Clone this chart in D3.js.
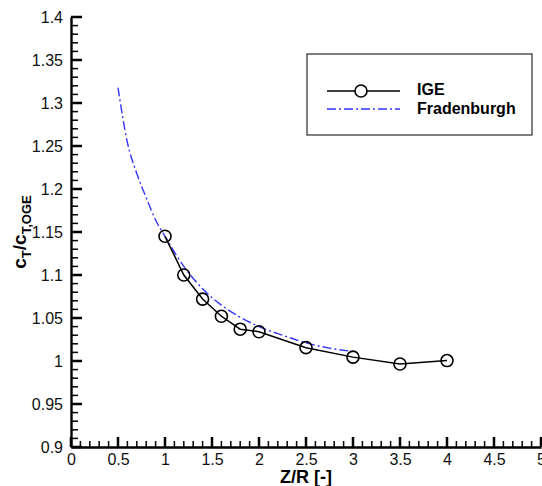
<!DOCTYPE html>
<html>
<head>
<meta charset="utf-8">
<script src="https://cdn.jsdelivr.net/npm/d3@7"></script>
<style>
  body { margin: 0; background: #fff; }
  svg { display: block; font-family: "Liberation Sans", Arial, Helvetica, sans-serif; }
</style>
</head>
<body>
<svg id="chart" width="542" height="486"></svg>
<script>
// IGE measurements
const igeX = [1.0, 1.2, 1.4, 1.6, 1.8, 2.0, 2.5, 3.0, 3.5, 4.0];
const igeY = [1.145, 1.100, 1.072, 1.052, 1.037, 1.034, 1.0155, 1.0045, 0.9965, 1.0005];

// Fradenburgh curve
const fradX = [0.5, 0.6, 0.7, 0.8, 0.9, 1.0, 1.2, 1.4, 1.6, 1.8, 2.0, 2.25, 2.5, 2.75, 3.0];
const fradY = [1.318, 1.254, 1.218, 1.19, 1.164, 1.145, 1.110, 1.084, 1.065, 1.051, 1.040, 1.030, 1.021, 1.015, 1.011];

const xTicks = [0, 0.5, 1, 1.5, 2, 2.5, 3, 3.5, 4, 4.5, 5];
const yTicks = [0.9, 0.95, 1, 1.05, 1.1, 1.15, 1.2, 1.25, 1.3, 1.35, 1.4];

const plotL = 71, plotR = 541, plotT = 17, plotB = 447;

const svg = d3.select("#chart");

const x = d3.scaleLinear().domain([0, 5]).range([plotL, plotR]);
const y = d3.scaleLinear().domain([0.9, 1.4]).range([plotB, plotT]);

const xMinor = d3.range(0, 51).map((i) => i / 10).filter((v) => Math.round(v * 10) % 5 !== 0);
const yMinor = d3.range(90, 141).map((i) => i / 100).filter((v) => Math.round(v * 100) % 5 !== 0);

// axes: domain lines + labels
const xAxis = svg.append("g")
  .attr("transform", `translate(0,${plotB})`)
  .call(d3.axisBottom(x).tickValues(xTicks).tickSize(0).tickPadding(7).tickFormat(d3.format("")));
const yAxis = svg.append("g")
  .attr("transform", `translate(${plotL},0)`)
  .call(d3.axisLeft(y).tickValues(yTicks).tickSize(0).tickPadding(8).tickFormat(d3.format("")));

[xAxis, yAxis].forEach((a) => {
  a.select(".domain").attr("stroke-width", 2.4).attr("stroke", "#000");
  a.selectAll("text").attr("font-size", 16).attr("font-family", null).attr("fill", "#111");
});

// tick marks pointing inward
const addTicks = (vals, len, horiz, w) =>
  svg.append("g").selectAll("rect").data(vals).enter().append("rect")
    .attr("x", (d) => (horiz ? x(d) - w / 2 : plotL))
    .attr("y", (d) => (horiz ? plotB - len : y(d) - w / 2))
    .attr("width", horiz ? w : len)
    .attr("height", horiz ? len : w)
    .attr("fill", "#000");

addTicks(xMinor, 6, true, 1.5);
addTicks(yMinor, 7, false, 1.5);
addTicks(xTicks, 10, true, 2.5);
addTicks(yTicks, 11, false, 2.5);

// Fradenburgh line
const fradData = fradX.map((v, i) => ({ x: v, y: fradY[i] }));
const line = d3.line().x((d) => x(d.x)).y((d) => y(d.y)).curve(d3.curveMonotoneX);

svg.append("path")
  .datum(fradData)
  .attr("fill", "none")
  .attr("stroke", "#3535ff")
  .attr("stroke-width", 1.4)
  .attr("stroke-dasharray", "9,3,2,3")
  .attr("d", line);

// IGE line + markers
const igeData = igeX.map((v, i) => ({ x: v, y: igeY[i] }));
svg.append("path")
  .datum(igeData)
  .attr("fill", "none")
  .attr("stroke", "#000")
  .attr("stroke-width", 1.5)
  .attr("d", d3.line().x((d) => x(d.x)).y((d) => y(d.y)));

svg.selectAll(".ige")
  .data(igeData)
  .enter()
  .append("circle")
  .attr("class", "ige")
  .attr("cx", (d) => x(d.x))
  .attr("cy", (d) => y(d.y))
  .attr("r", 6)
  .attr("fill", "none")
  .attr("stroke", "#000")
  .attr("stroke-width", 1.6);

// axis titles
svg.append("text")
  .attr("x", (plotL + plotR) / 2)
  .attr("y", 483)
  .attr("text-anchor", "middle")
  .attr("font-size", 18)
  .attr("font-weight", "bold")
  .text("Z/R [-]");

const yTitle = svg.append("text")
  .attr("transform", `translate(26,${(plotT + plotB) / 2}) rotate(-90)`)
  .attr("text-anchor", "middle")
  .attr("font-size", 19)
  .attr("font-weight", "bold");
yTitle.append("tspan").text("c");
yTitle.append("tspan").attr("font-size", 13).attr("dy", 5).text("T");
yTitle.append("tspan").attr("dy", -5).text("/c");
yTitle.append("tspan").attr("font-size", 13).attr("dy", 5).text("T,OGE");

// legend
const legend = svg.append("g").attr("transform", "translate(307,54)");
legend.append("rect")
  .attr("width", 225)
  .attr("height", 81)
  .attr("fill", "#fff")
  .attr("stroke", "#000")
  .attr("stroke-width", 1);

legend.append("line")
  .attr("x1", 20).attr("x2", 93).attr("y1", 37).attr("y2", 37)
  .attr("stroke", "#000").attr("stroke-width", 1.5);
legend.append("circle")
  .attr("cx", 54).attr("cy", 37).attr("r", 6)
  .attr("fill", "#fff").attr("stroke", "#000").attr("stroke-width", 1.6);
legend.append("line")
  .attr("x1", 20).attr("x2", 93).attr("y1", 55).attr("y2", 55)
  .attr("stroke", "#3535ff").attr("stroke-width", 1.4)
  .attr("stroke-dasharray", "9,3,2,3");

legend.append("text")
  .attr("x", 110).attr("y", 41)
  .attr("font-size", 16).attr("font-weight", "bold")
  .text("IGE");
legend.append("text")
  .attr("x", 110).attr("y", 60)
  .attr("font-size", 16).attr("font-weight", "bold")
  .text("Fradenburgh");
</script>
</body>
</html>
